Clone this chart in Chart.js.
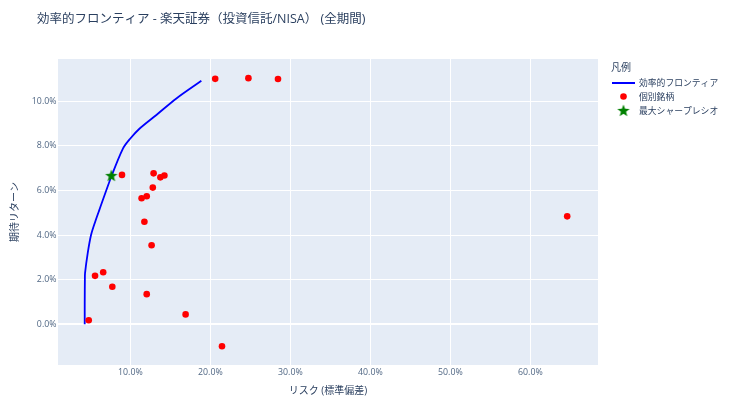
<!DOCTYPE html>
<html>
<head>
<meta charset="utf-8">
<script src="https://cdn.jsdelivr.net/npm/chart.js@4/dist/chart.umd.min.js"></script>
<style>
  html, body { margin: 0; padding: 0; background: #ffffff; }
  #wrap { width: 730px; height: 410px; }
</style>
</head>
<body>
<div id="wrap"><canvas id="c" width="730" height="410"></canvas></div>
<script>
// ---- Data (in %) ----
const titleText = '効率的フロンティア - 楽天証券（投資信託/NISA） (全期間)';
const xAxisTitle = 'リスク (標準偏差)';
const yAxisTitle = '期待リターン';
const legendTitle = '凡例';
const seriesNames = ['効率的フロンティア', '個別銘柄', '最大シャープレシオ'];

const frontierRisk   = [4.29, 4.29, 4.31, 4.33, 4.66, 5.08, 5.60, 6.12, 7.62, 9.08, 9.91, 11.16, 13.25, 15.75, 18.87];
const frontierReturn = [0.00, 1.00, 2.00, 2.29, 3.18, 4.00, 4.60, 5.13, 6.63, 7.89, 8.30, 8.78, 9.39, 10.13, 10.92];

const assetRisk   = [20.6, 24.75, 28.45, 8.95, 12.9, 13.75, 14.25, 12.8, 11.4, 12.04, 11.75, 12.65, 5.58, 6.6, 7.74, 12.04, 16.9, 4.79, 21.45, 64.6];
const assetReturn = [11.01, 11.04, 11.0, 6.70, 6.77, 6.59, 6.67, 6.13, 5.65, 5.74, 4.60, 3.54, 2.17, 2.33, 1.68, 1.35, 0.44, 0.18, -0.99, 4.84];

const sharpeRisk = [7.62];
const sharpeReturn = [6.65];

const xTicks = [10, 20, 30, 40, 50, 60];
const yTicks = [0, 2, 4, 6, 8, 10];
const xRange = [0.95, 68.45];
const yRange = [-1.83, 11.9];

// ---- Styling ----
const FONT = "'Open Sans', 'Noto Sans CJK JP', sans-serif";
const TEXT = '#2a3f5f';
const TICK = '#506784';
const PLOT_BG = '#E5ECF6';

function makeStar(size, color) {
  const c = document.createElement('canvas');
  c.width = size; c.height = size;
  const g = c.getContext('2d');
  const cx = size / 2, cy = size / 2, R = size / 2 - 0.5, r = R * 0.42;
  g.beginPath();
  for (let i = 0; i < 10; i++) {
    const ang = -Math.PI / 2 + i * Math.PI / 5;
    const rad = i % 2 === 0 ? R : r;
    const px = cx + rad * Math.cos(ang), py = cy + rad * Math.sin(ang);
    if (i === 0) g.moveTo(px, py); else g.lineTo(px, py);
  }
  g.closePath();
  g.fillStyle = color;
  g.fill();
  return c;
}
const starImg = makeStar(14, '#008000');

const zip = (xs, ys) => xs.map((x, i) => ({ x: x, y: ys[i] }));

const bgPlugin = {
  id: 'plotBg',
  beforeDraw(chart) {
    const { ctx, chartArea: a } = chart;
    ctx.save();
    ctx.fillStyle = PLOT_BG;
    ctx.fillRect(a.left, a.top, a.right - a.left, a.bottom - a.top);
    ctx.restore();
  }
};

const overlayPlugin = {
  id: 'overlay',
  afterDraw(chart) {
    const ctx = chart.ctx;
    ctx.save();
    ctx.fillStyle = TEXT;
    ctx.textBaseline = 'middle';
    ctx.textAlign = 'left';
    // Title
    ctx.font = '12.5px ' + FONT;
    ctx.fillText(titleText, 37, 19);
    // Legend
    ctx.font = '10px ' + FONT;
    ctx.fillText(legendTitle, 611, 68);
    ctx.font = '8.8px ' + FONT;
    ctx.strokeStyle = '#0000ff';
    ctx.lineWidth = 2;
    ctx.beginPath(); ctx.moveTo(612, 83); ctx.lineTo(635, 83); ctx.stroke();
    ctx.fillText(seriesNames[0], 639, 83);
    ctx.fillStyle = '#ff0000';
    ctx.beginPath(); ctx.arc(623.5, 96.5, 3.3, 0, Math.PI * 2); ctx.fill();
    ctx.fillStyle = TEXT;
    ctx.fillText(seriesNames[1], 639, 97);
    ctx.drawImage(starImg, 623.5 - 7, 111 - 7);
    ctx.fillText(seriesNames[2], 639, 111);
    ctx.restore();
  }
};

new Chart(document.getElementById('c'), {
  type: 'scatter',
  data: {
    datasets: [
      {
        label: seriesNames[2],
        data: zip(sharpeRisk, sharpeReturn),
        pointStyle: starImg,
        pointRadius: 7,
        order: 0
      },
      {
        label: seriesNames[1],
        data: zip(assetRisk, assetReturn),
        backgroundColor: '#ff0000',
        borderWidth: 0,
        pointRadius: 3.3,
        order: 1
      },
      {
        label: seriesNames[0],
        data: zip(frontierRisk, frontierReturn),
        showLine: true,
        borderColor: '#0000ff',
        borderWidth: 1.8,
        pointRadius: 0,
        tension: 0.3,
        order: 2
      }
    ]
  },
  options: {
    responsive: false,
    animation: false,
    layout: { padding: { left: 0, top: 59, right: 132, bottom: 0 } },
    plugins: {
      legend: { display: false },
      title: { display: false },
      tooltip: { enabled: false }
    },
    scales: {
      x: {
        type: 'linear',
        min: xRange[0], max: xRange[1],
        afterBuildTicks(axis) { axis.ticks = xTicks.map(v => ({ value: v })); },
        afterFit(scale) { scale.height = 45; },
        grid: { color: '#ffffff', lineWidth: 1, drawTicks: false },
        border: { display: false },
        ticks: {
          color: TICK, padding: 2,
          font: { family: FONT, size: 8.8 },
          callback: v => v.toFixed(1) + '%'
        },
        title: {
          display: true, text: xAxisTitle, color: TEXT,
          font: { family: FONT, size: 10 },
          padding: { top: 0, bottom: 13 }
        }
      },
      y: {
        type: 'linear',
        min: yRange[0], max: yRange[1],
        afterBuildTicks(axis) { axis.ticks = yTicks.map(v => ({ value: v })); },
        afterFit(scale) { scale.width = 58; },
        grid: {
          color: '#ffffff', drawTicks: false,
          lineWidth: ctx => (ctx.tick && ctx.tick.value === 0 ? 2 : 1)
        },
        border: { display: false },
        ticks: {
          color: TICK, padding: 1.5,
          font: { family: FONT, size: 8.8 },
          callback: v => v.toFixed(1) + '%'
        },
        title: {
          display: true, text: yAxisTitle, color: TEXT,
          font: { family: FONT, size: 10 },
          padding: { top: 9, bottom: 0 }
        }
      }
    }
  },
  plugins: [bgPlugin, overlayPlugin]
});
</script>
</body>
</html>
